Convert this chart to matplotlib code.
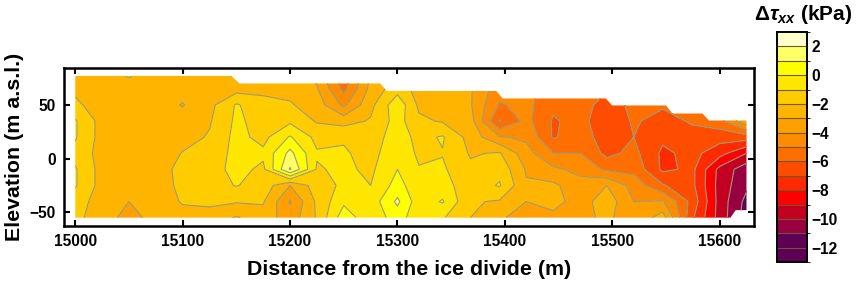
import numpy as np
import matplotlib
matplotlib.use('Agg')
import matplotlib.pyplot as plt
from matplotlib.colors import ListedColormap, BoundaryNorm
from matplotlib.patches import Polygon

plt.rcParams['font.family'] = ['Liberation Sans', 'DejaVu Sans']
plt.rcParams['font.weight'] = 'bold'
plt.rcParams['mathtext.fontset'] = 'custom'
plt.rcParams['mathtext.rm'] = 'Liberation Sans:bold'
plt.rcParams['mathtext.it'] = 'Liberation Sans:italic:bold'

# grid of the section, values in kPa
distance = [15000, 15025, 15050, 15075, 15100, 15125, 15150, 15175, 15200, 15225, 15250, 15275, 15300,
            15320, 15342, 15368, 15395, 15420, 15445, 15470, 15495, 15520, 15547, 15575, 15600, 15625]
elevation = [80, 65, 50, 35, 20, 5, -10, -25, -40, -55]

col_15000 = [-2.5, -2.2, -1.8, -0.9, -0.9, -1.3, -0.9, -0.9, -1.5, -1.7]
col_15025 = [-2.7, -2.7, -2.5, -2.4, -2.4, -2.4, -2.4, -2.4, -2.5, -2.6]
col_15050 = [-1.7, -2.6, -2.6, -2.6, -2.6, -2.6, -2.6, -2.6, -3.0, -3.3]
col_15075 = [-2.7, -2.6, -2.6, -2.6, -2.6, -2.6, -2.6, -2.6, -2.6, -2.7]
col_15100 = [-2.7, -2.7, -3.05, -2.7, -2.4, -1.95, -1.6, -1.7, -1.9, -2.4]
col_15125 = [-2.7, -2.6, -2.3, -2.1, -1.9, -1.6, -1.4, -1.4, -1.8, -2.4]
col_15150 = [-3.3, -2.4, -0.9, -0.8, -0.7, -0.7, -0.7, -0.95, -1.9, -3.1]
col_15175 = [-2.7, -2.3, -1.6, -1.4, -1.3, -0.8, -1.2, -1.4, -1.9, -2.4]
col_15200 = [-2.6, -2.3, -1.9, -1.2, 0.1, 1.3, 2.1, -3.0, -4.1, -3.6]
col_15225 = [-3.3, -2.9, -2.5, -2.1, -1.3, -0.9, -1.1, -1.5, -1.8, -1.9]
col_15250 = [-5.8, -5.3, -4.2, -2.4, -1.1, -0.9, -0.8, -0.8, -0.2, 0.6]
col_15275 = [-2.9, -2.7, -2.3, -1.9, -1.5, -1.3, -1.2, -1.0, -0.6, -0.7]
col_15300 = [-2.3, -1.4, -0.3, -0.6, -0.5, -0.4, 0.0, 0.4, 1.2, 0.5]
col_15320 = [-2.6, -2.4, -2.2, -1.8, -1.3, -1.15, -0.95, -0.7, -0.6, -0.7]
col_15342 = [-3.4, -3.0, -2.8, -2.1, -0.9, -1.05, -0.85, -0.6, 0.1, -0.9]
col_15368 = [-3.0, -2.9, -2.9, -2.6, -2.4, -2.1, -1.8, -1.6, -1.9, -2.0]
col_15395 = [-4.2, -4.6, -5.1, -6.1, -3.9, -1.9, -1.3, -0.9, -2.1, -2.9]
col_15420 = [-4.8, -4.7, -4.7, -4.7, -4.2, -3.6, -3.1, -2.9, -3.0, -3.3]
col_15445 = [-5.4, -5.5, -5.8, -6.1, -6.1, -5.0, -3.8, -2.8, -2.6, -3.3]
col_15470 = [-5.5, -5.5, -5.6, -5.7, -5.5, -5.0, -4.3, -3.6, -3.5, -3.4]
col_15495 = [-5.9, -5.9, -6.4, -6.6, -6.5, -6.3, -5.2, -3.0, -2.4, -2.7]
col_15520 = [-5.7, -5.7, -5.8, -5.9, -6.0, -5.7, -5.3, -4.4, -4.0, -3.9]
col_15547 = [-5.8, -5.8, -5.9, -6.3, -6.8, -7.2, -7.2, -5.9, -3.9, -2.5]
col_15575 = [-5.0, -5.2, -5.6, -5.9, -6.3, -6.7, -6.8, -6.8, -6.4, -6.9]
col_15600 = [-4.5, -4.7, -5.0, -5.4, -6.6, -7.6, -9.3, -9.4, -9.4, -9.4]
col_15625 = [-3.0, -3.0, -3.0, -3.2, -6.5, -9.0, -10.6, -10.8, -11.3, -11.5]

# outline of the ice body
outline_x = [15000, 15145, 15153, 15284, 15290, 15392, 15398, 15494, 15500, 15550, 15556, 15584, 15590,
             15625, 15625, 15615, 15610, 15000]
outline_y = [77, 77, 70, 70, 63, 63, 56, 56, 49.5, 49.5, 42, 42, 35.5, 35.5, -48, -48, -55, -55]

levels = np.arange(-13, 4)
band_colors = ['#5f0057', '#5f0057', '#99003f', '#c40022', '#ff0000', '#ff2a00', '#ff4d00', '#ff6e00',
               '#ff8c00', '#ffa000', '#ffb400', '#ffcc00', '#ffe600', '#ffff00', '#ffff66', '#ffffcc']
tick_vals = [2, 0, -2, -4, -6, -8, -10, -12]

tau = np.array([col_15000, col_15025, col_15050, col_15075, col_15100, col_15125, col_15150,
                col_15175, col_15200, col_15225, col_15250, col_15275, col_15300, col_15320,
                col_15342, col_15368, col_15395, col_15420, col_15445, col_15470, col_15495,
                col_15520, col_15547, col_15575, col_15600, col_15625]).T

W, H = 856, 283
fig = plt.figure(figsize=(W / 100, H / 100), dpi=100)
ax = fig.add_axes([64 / W, 1 - 226 / H, 690 / W, 158 / H])

cmap = ListedColormap(band_colors)
norm = BoundaryNorm(levels, cmap.N)
cf = ax.contourf(distance, elevation, tau, levels=levels, cmap=cmap, norm=norm)
cl = ax.contour(distance, elevation, tau, levels=levels, colors='#9a9a80', linewidths=0.8,
                linestyles='solid')

shape = Polygon(np.column_stack([outline_x, outline_y]), closed=True, transform=ax.transData,
                fc='none', ec='none')
ax.add_patch(shape)
cf.set_clip_path(shape)
cl.set_clip_path(shape)

ax.set_xlim(14989.5, 15632)
ax.set_ylim(-62.8, 84.4)
ax.set_xticks([15000, 15100, 15200, 15300, 15400, 15500, 15600])
ax.set_yticks([-50, 0, 50])
ax.tick_params(direction='in', top=True, right=True, width=1.5, length=4, labelsize=11.2, pad=6)
for s in ax.spines.values():
    s.set_linewidth(1.8)
ax.set_xlabel('Distance from the ice divide (m)', fontsize=15.4, fontweight='bold', labelpad=8)
ax.set_ylabel('Elevation (m a.s.l.)', fontsize=15.4, fontweight='bold', labelpad=4)

cax = fig.add_axes([777 / W, 1 - 262 / H, 30 / W, 230 / H])
cb = fig.colorbar(cf, cax=cax, ticks=tick_vals, drawedges=True)
cb.dividers.set_color('#6a5a30')
cb.dividers.set_linewidth(0.8)
cb.outline.set_linewidth(1.4)
cb.ax.tick_params(length=0, labelsize=11.2, pad=3)
fig.text(803 / W, 1 - 14 / H, r'$\Delta\tau_{xx}$ (kPa)', fontsize=15, fontweight='bold',
         ha='center', va='center')

fig.savefig('out.png', dpi=100)
